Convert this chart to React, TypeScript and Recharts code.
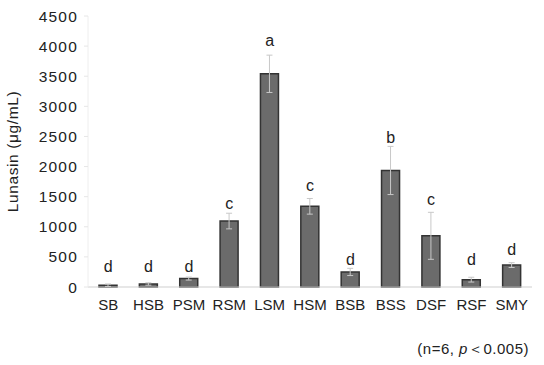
import React from "react";
import {
  ComposedChart,
  Bar,
  Scatter,
  XAxis,
  YAxis,
  ErrorBar,
} from "recharts";

const categories = ["SB", "HSB", "PSM", "RSM", "LSM", "HSM", "BSB", "BSS", "DSF", "RSF", "SMY"];
const lunasin = [30, 50, 140, 1095, 3540, 1340, 250, 1935, 850, 122, 364];
const errors = [20, 20, 25, 130, 310, 130, 60, 400, 390, 40, 40];
const letters = ["d", "d", "d", "c", "a", "c", "d", "b", "c", "d", "d"];
const letterAt = [347, 347, 347, 1390, 4086, 1688, 463, 2482, 1456, 463, 629];
const yTicks = [0, 500, 1000, 1500, 2000, 2500, 3000, 3500, 4000, 4500];

const FONT = "'Liberation Sans', Arial, sans-serif";

const rows = categories.map((name, i) => ({
  name,
  value: lunasin[i],
  err: errors[i],
  letter: letters[i],
  letterAt: letterAt[i],
}));

// 유의성 문자 렌더러
const renderLetter = (props: { cx?: number; cy?: number; payload?: { letter: string } }) => {
  const { cx, cy, payload } = props;
  if (cx === undefined || cy === undefined || !payload) return <g />;
  return (
    <text
      x={cx}
      y={cy}
      textAnchor="middle"
      dominantBaseline="central"
      fontSize={16}
      fontFamily={FONT}
      fill="#222"
    >
      {payload.letter}
    </text>
  );
};

export default function App() {
  return (
    <div style={{ position: "absolute", left: 0, top: 0, width: 544, height: 365, background: "#fff" }}>
      <ComposedChart
        width={544}
        height={365}
        data={rows}
        margin={{ top: 16, right: 12, bottom: 48, left: 0 }}
      >
        <XAxis
          dataKey="name"
          axisLine={{ stroke: "#cfcfcf" }}
          tickLine={false}
          tick={{ fill: "#222", fontSize: 15, fontFamily: FONT }}
          interval={0}
          tickMargin={6}
        />
        <YAxis
          domain={[0, 4500]}
          ticks={yTicks}
          width={88}
          axisLine={{ stroke: "#eeeeee" }}
          tickLine={{ stroke: "#e6e6e6" }}
          tickSize={4}
          tick={{ fill: "#222", fontSize: 15.5, fontFamily: FONT, letterSpacing: 1.2 }}
          tickMargin={6}
          label={{
            value: "Lunasin (μg/mL)",
            angle: -90,
            position: "insideLeft",
            offset: 12,
            style: { textAnchor: "middle", fill: "#222", fontSize: 15.5, fontFamily: FONT, letterSpacing: 0.6 },
          }}
        />
        <Bar
          dataKey="value"
          fill="#6b6b6b"
          stroke="#333"
          strokeWidth={1.5}
          barSize={18}
          isAnimationActive={false}
        >
          <ErrorBar dataKey="err" width={3} stroke="#c8c8c8" strokeWidth={1} />
        </Bar>
        <Scatter dataKey="letterAt" shape={renderLetter} isAnimationActive={false} />
      </ComposedChart>
      <div
        style={{
          position: "absolute",
          right: 15,
          top: 340,
          fontSize: 15,
          fontFamily: FONT,
          color: "#222",
          letterSpacing: 0.5,
        }}
      >
        (n=6, <i>p</i>＜0.005)
      </div>
    </div>
  );
}
